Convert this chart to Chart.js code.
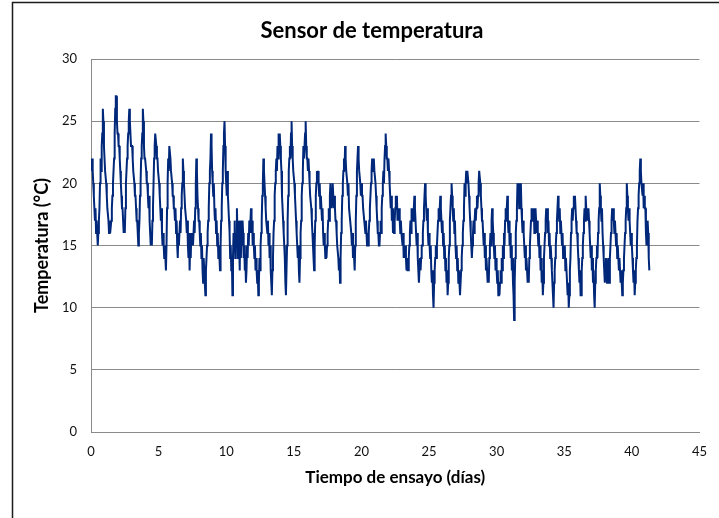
<!DOCTYPE html>
<html>
<head>
<meta charset="utf-8">
<script src="https://cdn.jsdelivr.net/npm/chart.js@4/dist/chart.umd.min.js"></script>
<style>
  html, body { margin: 0; padding: 0; background: #ffffff; }
  #wrap { width: 719px; height: 518px; position: relative; overflow: hidden; }
</style>
</head>
<body>
<div id="wrap"><canvas id="grafico" width="719" height="518"></canvas></div>
<script>
// Lecturas horarias del sensor (°C), un arreglo por semana de ensayo
const semana1 = [
  22,21,22,21,20,19,18,17,18,16,17,16,15,16,17,18,20,22,21,23,24,26,25,23,
  22,21,21,20,19,18,18,17,16,17,16,16,17,18,19,20,21,22,24,26,27,27,25,24,
  24,23,23,22,21,20,19,18,18,17,16,17,16,18,20,21,22,23,24,25,26,25,24,23,
  23,23,22,21,21,20,19,19,18,17,17,16,15,16,17,19,20,22,23,24,26,25,23,22,
  22,22,21,20,20,19,18,19,17,16,15,16,15,17,18,20,22,23,24,24,23,22,22,21,
  21,20,19,18,17,18,16,15,16,15,14,15,14,13,15,18,20,22,21,23,23,22,21,21,
  20,19,19,18,18,17,18,16,17,15,14,16,15,16,17,16,18,19,20,22,21,20,19,18
];
const semana2 = [
  18,17,16,17,15,14,16,13,15,14,16,15,16,15,16,17,16,18,20,22,21,19,18,17,
  17,16,15,16,14,15,13,12,14,13,12,11,13,14,15,16,17,18,20,21,22,24,23,21,
  20,19,20,18,17,18,16,17,15,16,14,15,14,13,15,17,18,20,21,23,24,25,23,21,
  20,19,21,19,18,17,16,14,15,13,14,11,14,16,15,17,14,16,15,18,16,14,17,15,
  13,17,14,16,15,17,16,14,15,13,14,12,13,15,14,16,15,17,16,17,18,16,17,15,
  16,15,14,15,13,14,13,12,13,11,12,14,13,15,16,17,19,20,22,21,20,19,18,17,
  17,16,17,15,16,14,15,13,12,11,13,14,16,17,19,20,21,22,21,23,22,24,23,24
];
const semana3 = [
  23,22,21,19,18,17,16,15,14,12,11,13,15,17,19,21,22,23,22,24,25,23,22,21,
  21,20,19,18,17,16,15,14,15,13,12,14,16,17,19,20,21,23,22,23,24,25,23,22,
  22,21,22,21,20,19,19,18,17,16,15,14,13,15,17,19,20,21,20,21,20,19,20,18,
  19,18,17,18,16,15,16,15,14,15,14,15,16,17,18,17,19,20,19,18,19,20,19,18,
  19,18,17,17,16,15,15,14,13,14,12,14,16,17,19,20,21,22,21,23,22,21,21,20,
  19,20,18,18,17,17,16,15,16,14,15,14,13,15,17,19,21,22,23,22,21,21,20,19,
  20,19,19,18,18,17,17,16,17,16,15,16,15,16,17,18,19,20,21,22,22,21,22,21
];
const semana4 = [
  21,20,19,18,17,16,16,15,15,16,17,16,18,19,20,21,20,22,23,24,23,22,22,21,
  22,21,20,19,18,19,17,18,16,17,16,17,18,19,18,19,17,18,17,18,17,16,17,16,
  16,15,16,14,15,14,15,14,13,14,13,13,14,15,16,17,16,18,17,18,17,18,19,18,
  17,16,15,16,14,13,12,13,14,13,14,15,15,16,17,18,19,20,19,18,17,18,16,15,
  16,15,14,15,13,12,13,11,10,12,13,14,15,14,15,16,17,18,17,18,19,18,17,16,
  17,15,16,14,15,13,14,12,13,11,12,14,15,17,18,19,20,19,18,17,18,16,17,15,
  14,15,13,14,12,13,12,11,11,13,14,15,16,17,18,20,19,20,21,20,21,21,20,19
];
const semana5 = [
  18,17,16,15,14,15,16,17,16,17,18,17,18,19,18,19,20,21,21,20,19,18,17,17,
  16,15,16,14,15,13,14,13,12,13,12,14,15,16,15,17,18,17,16,15,14,15,13,14,
  13,12,13,11,12,11,12,13,12,14,13,15,14,16,15,17,18,17,18,19,17,16,17,15,
  16,14,15,13,14,12,11,9,12,14,16,17,18,20,19,20,18,20,19,20,18,17,16,17,
  16,15,14,15,13,14,13,12,13,12,14,15,16,17,18,17,18,17,18,16,17,18,17,16,
  17,16,15,16,14,15,13,14,12,13,11,12,14,15,16,17,18,17,18,16,17,15,16,14,
  15,14,13,12,11,10,12,13,14,15,16,17,18,19,18,17,18,16,17,16,15,16,14,15
];
const semana6 = [
  14,15,13,14,13,12,11,12,10,11,13,14,16,17,18,17,18,19,18,19,18,17,16,16,
  15,14,13,12,13,11,11,13,14,15,16,17,18,17,19,18,17,18,17,18,17,16,15,14,
  15,13,14,12,13,11,10,12,13,14,15,14,16,17,18,20,19,18,17,18,16,15,14,13,
  12,13,14,13,12,13,14,13,12,14,15,16,17,18,17,18,17,16,17,16,15,16,14,15,
  14,13,14,13,12,13,12,11,12,13,14,15,16,17,18,20,19,18,17,18,17,16,15,16,
  15,14,13,12,13,11,12,13,14,15,17,18,19,20,21,22,21,20,20,19,20,18,19,18,
  18,16,15,16,17,16,14,13
];

const LECTURAS_POR_DIA = 24;           // una lectura por hora
const ticksDias = [0, 5, 10, 15, 20, 25, 30, 35, 40, 45];
const ticksTemp = [0, 5, 10, 15, 20, 25, 30];

const lecturas = [].concat(semana1, semana2, semana3, semana4, semana5, semana6);
const puntos = lecturas.map((t, i) => ({ x: i / LECTURAS_POR_DIA, y: t }));

const FUENTE = 'Lato, "Open Sans", "Liberation Sans", sans-serif';
const GRIS = '#8a8a8a';

// Marco exterior del gráfico
const marco = {
  id: 'marco',
  afterDraw(chart) {
    const ctx = chart.ctx;
    ctx.save();
    ctx.strokeStyle = '#1b1b1b';
    ctx.lineWidth = 1.5;
    ctx.beginPath();
    ctx.moveTo(12.5, chart.height + 5);
    ctx.lineTo(12.5, 2.5);
    ctx.lineTo(chart.width + 5, 2.5);
    ctx.stroke();
    ctx.restore();
  }
};

function fijarTicks(lista) {
  return scale => { scale.ticks = lista.map(v => ({ value: v })); };
}

new Chart(document.getElementById('grafico'), {
  type: 'scatter',
  data: {
    datasets: [{
      label: 'Temperatura',
      data: puntos,
      showLine: true,
      borderColor: '#00287a',
      backgroundColor: '#00287a',
      borderWidth: 2,
      pointRadius: 0,
      pointHoverRadius: 0,
      tension: 0
    }]
  },
  options: {
    responsive: false,
    animation: false,
    devicePixelRatio: 1,
    layout: { padding: { left: 32, right: 7, top: 0, bottom: 0 } },
    plugins: {
      legend: { display: false },
      tooltip: { enabled: false },
      title: {
        display: true,
        text: 'Sensor de temperatura',
        color: '#000',
        font: { family: FUENTE, size: 22, weight: 'bold' },
        padding: { top: 18, bottom: 14.6 }
      }
    },
    scales: {
      x: {
        type: 'linear',
        min: 0,
        max: 45,
        afterBuildTicks: fijarTicks(ticksDias),
        afterFit: s => { s.height = 86; },
        ticks: { color: '#111', font: { family: FUENTE, size: 13 }, padding: 12, maxRotation: 0 },
        grid: { display: false, drawTicks: false },
        border: { display: true, color: GRIS, width: 1 },
        title: {
          display: true,
          text: 'Tiempo de ensayo (días)',
          color: '#000',
          font: { family: FUENTE, size: 17, weight: 'bold' },
          padding: { top: 0, bottom: 30 }
        }
      },
      y: {
        type: 'linear',
        min: 0,
        max: 30,
        afterBuildTicks: fijarTicks(ticksTemp),
        afterFit: s => { s.width = 59; },
        ticks: { color: '#111', font: { family: FUENTE, size: 13 }, padding: 14 },
        grid: { color: GRIS, lineWidth: 1, drawTicks: false },
        border: { display: true, color: GRIS, width: 1 },
        title: {
          display: true,
          text: 'Temperatura (°C)',
          color: '#000',
          font: { family: FUENTE, size: 18, weight: 'bold', lineHeight: 1 },
          padding: { top: 1, bottom: 0 }
        }
      }
    }
  },
  plugins: [marco]
});
</script>
</body>
</html>
